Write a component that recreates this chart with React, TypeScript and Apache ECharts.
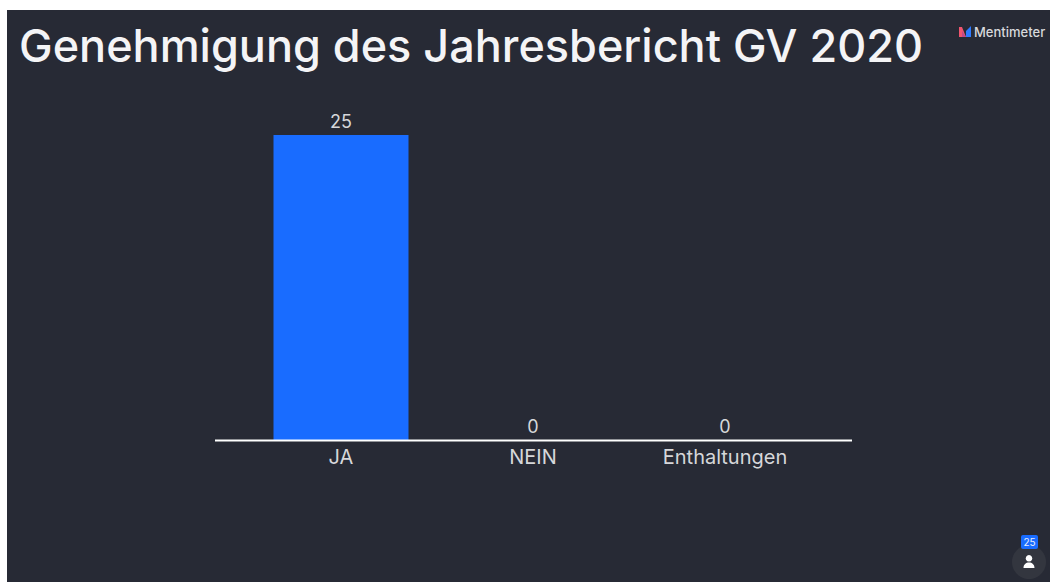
import React, { useEffect, useRef } from "react";
import * as echarts from "echarts";

const titleText = "Genehmigung des Jahresbericht GV 2020";
const brandText = "Mentimeter";
const categories = ["JA", "NEIN", "Enthaltungen"];
const votes = [25, 0, 0];
const participantCount = "25";

const FONT = "Inter";
const PANEL = "#272a35";

echarts.graphic.registerShape(
  "personIcon",
  echarts.graphic.extendPath(
    "M6 0 A3.3 3.3 0 1 1 5.99 0 Z M0.5 13 C0.5 9.5 3 7.6 6 7.6 C9 7.6 11.5 9.5 11.5 13 Z",
    {}
  ) as any
);

export default function App() {
  const ref = useRef<HTMLDivElement>(null);
  useEffect(() => {
    const chart = echarts.init(ref.current!, undefined, { renderer: "svg" });
    chart.setOption({
      animation: false,
      backgroundColor: "#ffffff",
      title: {
        text: titleText,
        left: 14,
        top: 18,
        textStyle: { color: "#f4f4f6", fontFamily: FONT, fontSize: 45, fontWeight: 500 },
      },
      grid: { left: 245, width: 576, top: 135, height: 305 },
      xAxis: {
        type: "category",
        data: categories,
        axisLine: { show: false },
        axisTick: { show: false },
        axisLabel: { color: "#d6d7da", fontFamily: FONT, fontSize: 20, margin: 7 },
      },
      yAxis: { type: "value", min: 0, max: 25, show: false },
      series: [
        {
          type: "bar",
          data: votes,
          barWidth: 135,
          itemStyle: { color: "#196cff" },
          z: 3,
          label: {
            show: true,
            position: "top",
            distance: 5,
            color: "#d6d7da",
            fontFamily: FONT,
            fontSize: 18,
          },
        },
      ],
      graphic: [
        { type: "rect", z: -10, shape: { x: 7, y: 10, width: 1043, height: 572 }, style: { fill: PANEL } },
        { type: "line", z: 5, shape: { x1: 215, y1: 440.5, x2: 852, y2: 440.5 }, style: { stroke: "#ffffff", lineWidth: 2 } },
        { type: "polygon", z: 5, shape: { points: [[959, 27], [962, 27], [966, 37], [959, 37]] }, style: { fill: "#f0556e" } },
        { type: "polygon", z: 5, shape: { points: [[962, 31], [966, 37], [962, 37]] }, style: { fill: "#c04a8a" } },
        { type: "polygon", z: 5, shape: { points: [[966, 37], [966, 31], [971, 26], [971, 37]] }, style: { fill: "#2f7bff" } },
        {
          type: "text", z: 5, x: 974, y: 32,
          style: { text: brandText, fill: "#d8d9dc", fontFamily: FONT, fontSize: 13, fontWeight: 500, verticalAlign: "middle", textAlign: "left" },
        },
        { type: "circle", z: 5, shape: { cx: 1029, cy: 562, r: 17 }, style: { fill: "#33363f" } },
        { type: "personIcon", z: 6, x: 1023, y: 555, style: { fill: "#ffffff" } },
        { type: "rect", z: 6, shape: { x: 1021, y: 535, width: 17, height: 14, r: 2 }, style: { fill: "#196cff" } },
        {
          type: "text", z: 7, x: 1029.5, y: 542,
          style: { text: participantCount, fill: "#e8eefc", fontFamily: FONT, fontSize: 10, textAlign: "center", verticalAlign: "middle" },
        },
      ],
    });
    return () => chart.dispose();
  }, []);
  return <div ref={ref} style={{ position: "absolute", left: 0, top: 0, width: 1050, height: 582 }} />;
}
